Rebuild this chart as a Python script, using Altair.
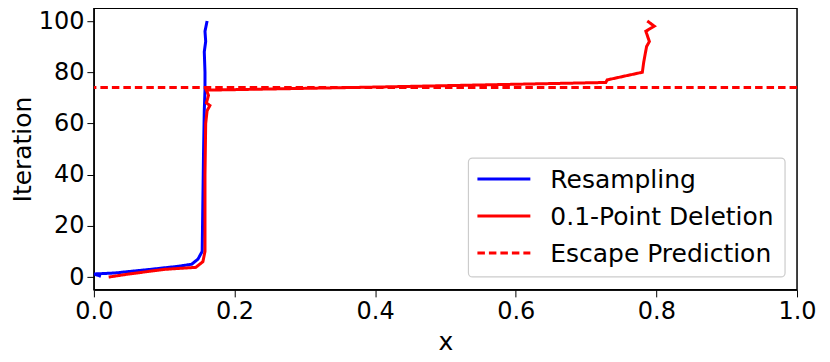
import altair as alt
import pandas as pd

blue_x = [0.010, 0.000, 0.030, 0.080, 0.120, 0.139, 0.148, 0.154, 0.155, 0.156, 0.157, 0.158, 0.158, 0.157, 0.159, 0.158, 0.161]
blue_y = [0.3, 1.2, 1.6, 3.0, 4.2, 5.0, 7.0, 10.0, 30.0, 50.0, 65.0, 73.0, 80.0, 88.0, 92.0, 96.0, 100.0]

red_x = [0.021, 0.050, 0.100, 0.145, 0.155, 0.158, 0.158, 0.159, 0.161, 0.165, 0.160, 0.163, 0.160, 0.400, 0.600, 0.728, 0.730, 0.780, 0.782, 0.786, 0.790, 0.785, 0.797, 0.787]
red_y = [0.0, 1.2, 3.0, 3.8, 6.0, 10.0, 40.0, 60.0, 65.0, 67.0, 68.0, 71.0, 73.0, 74.2, 75.3, 76.0, 77.0, 80.0, 84.0, 90.0, 92.0, 96.0, 98.0, 100.0]

escape_y = 74

series_names = ["Resampling", "0.1-Point Deletion", "Escape Prediction"]
series_colors = ["#0000ff", "#ff0000", "#ff0000"]
series_dash = [[1, 0], [1, 0], [7.5, 4]]

rows = []
for i, (x, y) in enumerate(zip(blue_x, blue_y)):
    rows.append({"x": x, "y": y, "series": series_names[0], "idx": i})
for i, (x, y) in enumerate(zip(red_x, red_y)):
    rows.append({"x": x, "y": y, "series": series_names[1], "idx": i})
df = pd.DataFrame(rows)
df_rule = pd.DataFrame({"y": [escape_y], "series": [series_names[2]]})

color = alt.Color("series:N", scale=alt.Scale(domain=series_names, range=series_colors), legend=None)
dash = alt.StrokeDash("series:N", scale=alt.Scale(domain=series_names, range=series_dash), legend=None)

xenc = alt.X("x:Q", scale=alt.Scale(domain=[0, 1], nice=False),
             axis=alt.Axis(values=[0, 0.2, 0.4, 0.6, 0.8, 1.0], format=".1f", title="x", labelFlush=False))
yenc = alt.Y("y:Q", scale=alt.Scale(domain=[-5, 105], nice=False, zero=False),
             axis=alt.Axis(values=[0, 20, 40, 60, 80, 100], title="Iteration", labelFlush=False))

lines = alt.Chart(df).mark_line(strokeWidth=3, clip=True).encode(
    x=xenc, y=yenc, color=color, strokeDash=dash, order=alt.Order("idx:Q"), detail="series:N")

rule = alt.Chart(df_rule).mark_rule(strokeWidth=3).encode(
    y=alt.Y("y:Q"), color=color, strokeDash=dash)

# manual legend (pixel positions inside the plot area)
one = pd.DataFrame({"a": [0]})
leg_layers = [
    alt.Chart(one).mark_rect(fill="white", stroke="#cccccc", strokeWidth=1.2, cornerRadius=4).encode(
        x=alt.value(375), x2=alt.value(692), y=alt.value(150), y2=alt.value(269))
]
row_y = [171, 208, 245]
for name, col, dsh, ry in zip(series_names, series_colors, series_dash, row_y):
    leg_layers.append(
        alt.Chart(one).mark_rule(strokeWidth=3, color=col, strokeDash=dsh).encode(
            x=alt.value(384), x2=alt.value(437), y=alt.value(ry)))
    leg_layers.append(
        alt.Chart(one).mark_text(text=name, align="left", baseline="middle", fontSize=25,
                                 font="DejaVu Sans", color="black").encode(
            x=alt.value(457), y=alt.value(ry + 1)))

chart = alt.layer(lines, rule, *leg_layers).properties(
    width=704, height=282,
    padding={"left": 2, "top": 0, "right": 5, "bottom": 5},
).configure_view(stroke="black", strokeWidth=1.5).configure_axis(
    labelFont="DejaVu Sans", titleFont="DejaVu Sans", labelFontSize=24, titleFontSize=25,
    labelColor="black", titleColor="black", titleFontWeight="normal",
    domainColor="black", tickColor="black", tickSize=7, grid=False, labelPadding=3,
).configure_axisY(titlePadding=3).configure_axisX(titlePadding=6)

chart.save("out.html", embed_options={"renderer": "svg", "actions": False})
